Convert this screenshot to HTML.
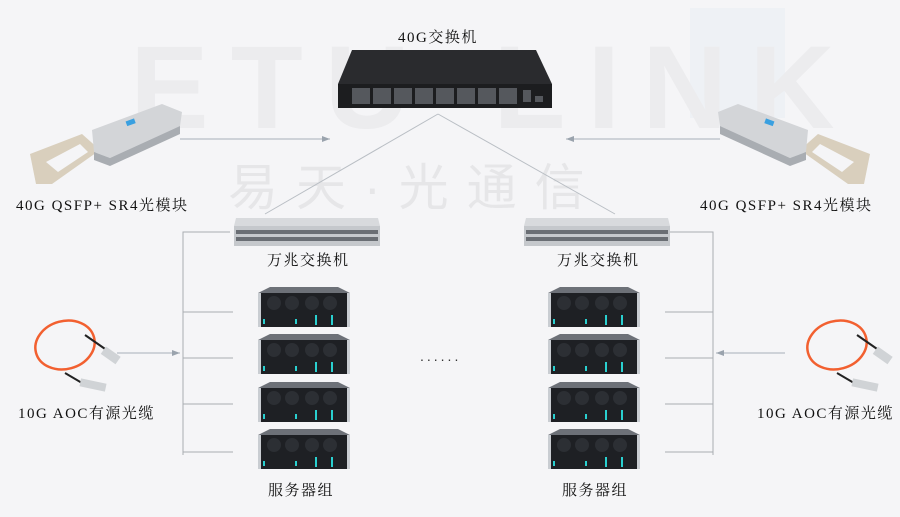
<!DOCTYPE html>
<html><head><meta charset="utf-8"><style>
html,body{margin:0;padding:0;background:#f5f5f7;}
svg{display:block}
.t{font-family:"Liberation Serif","Noto Serif CJK SC",serif;font-size:15px;fill:#111;letter-spacing:1.5px}
</style></head><body>
<svg width="900" height="517" viewBox="0 0 900 517" xmlns="http://www.w3.org/2000/svg">
<defs>
<g id="srv">
 <path d="M12 0 H80 L92 6 H0 Z" fill="#6d7178"/>
 <rect x="0" y="6" width="92" height="34" fill="#1e2024"/>
 <rect x="0" y="6" width="3" height="34" fill="#c9cdd2"/>
 <rect x="89" y="6" width="3" height="34" fill="#c9cdd2"/>
 <circle cx="16" cy="16" r="7" fill="#2c2f34"/><circle cx="34" cy="16" r="7" fill="#2c2f34"/>
 <circle cx="54" cy="16" r="7" fill="#2c2f34"/><circle cx="72" cy="16" r="7" fill="#2c2f34"/>
 <rect x="5" y="32" width="2" height="5" fill="#2ad0d0"/><rect x="37" y="32" width="2" height="5" fill="#2ad0d0"/>
 <rect x="57" y="28" width="2" height="10" fill="#2ad0d0"/><rect x="73" y="28" width="2" height="10" fill="#2ad0d0"/>
</g>
<g id="qsfp">
 <path d="M18 62 L70 42 L88 58 L40 92 L24 92 Z" fill="#d9cfbd"/>
 <path d="M34 70 L68 52 L76 60 L46 80 Z" fill="#f5f5f7"/>
 <path d="M80 38 L150 12 L170 20 L168 34 L98 66 L82 60 Z" fill="#d3d5d8"/>
 <path d="M82 60 L98 66 L168 34 L168 42 L98 74 L82 68 Z" fill="#a9adb2"/>
 <rect x="114" y="28" width="9" height="5" fill="#3aa0e0" transform="rotate(-20 118 30)"/>
</g>
<g id="aoc">
 <ellipse cx="45" cy="32" rx="30" ry="24" fill="none" stroke="#f26030" stroke-width="2.5" transform="rotate(-15 45 32)"/>
 <path d="M65 22 L88 38" stroke="#222" stroke-width="2"/>
 <path d="M45 60 L62 70" stroke="#222" stroke-width="2"/>
 <rect x="82" y="38" width="18" height="9" fill="#d0d3d6" transform="rotate(35 91 42)"/>
 <rect x="60" y="68" width="26" height="8" fill="#d0d3d6" transform="rotate(12 73 72)"/>
</g>
<marker id="ah" markerWidth="8" markerHeight="6" refX="8" refY="3" orient="auto"><path d="M0 0 L8 3 L0 6 Z" fill="#9aa3ad"/></marker>
</defs>

<!-- watermark -->
<rect x="690" y="8" width="95" height="110" fill="#eef1f5"/>
<text x="130" y="128" font-family="Liberation Sans,sans-serif" font-size="118" font-weight="bold" fill="#ececee" letter-spacing="22">ETU-LINK</text>
<text x="228" y="205" font-family="Liberation Sans,'Noto Sans CJK SC',sans-serif" font-size="50" fill="#e6e6e8" letter-spacing="18">易天·光通信</text>

<text class="t" x="398" y="42">40G交换机</text>
<!-- core switch -->
<path d="M352 50 H536 L552 84 H338 Z" fill="#2a2b2e"/>
<rect x="338" y="84" width="214" height="24" fill="#1c1d1f"/>
<g fill="#55585d">
<rect x="352" y="88" width="18" height="16"/><rect x="373" y="88" width="18" height="16"/><rect x="394" y="88" width="18" height="16"/><rect x="415" y="88" width="18" height="16"/><rect x="436" y="88" width="18" height="16"/><rect x="457" y="88" width="18" height="16"/><rect x="478" y="88" width="18" height="16"/><rect x="499" y="88" width="18" height="16"/><rect x="523" y="90" width="8" height="12"/><rect x="535" y="96" width="8" height="6"/>
</g>

<!-- uplinks -->
<path d="M438 114 L265 214 M438 114 L615 214" stroke="#b9bec4" stroke-width="1" fill="none"/>
<line x1="180" y1="139" x2="330" y2="139" stroke="#a8b0b8" marker-end="url(#ah)"/>
<line x1="720" y1="139" x2="566" y2="139" stroke="#a8b0b8" marker-end="url(#ah)"/>

<use href="#qsfp" x="12" y="92"/>
<use href="#qsfp" transform="translate(888 92) scale(-1 1)"/>
<text class="t" x="16" y="210">40G QSFP+ SR4光模块</text>
<text class="t" x="700" y="210">40G QSFP+ SR4光模块</text>

<!-- leaf switches -->
<g>
<path d="M236 218 H378 L380 226 H234 Z" fill="#d8dadd"/>
<rect x="234" y="226" width="146" height="20" fill="#c5c8cc"/>
<rect x="236" y="230" width="142" height="4" fill="#6a6e74"/><rect x="236" y="237" width="142" height="4" fill="#6a6e74"/>
<path d="M526 218 H668 L670 226 H524 Z" fill="#d8dadd"/>
<rect x="524" y="226" width="146" height="20" fill="#c5c8cc"/>
<rect x="526" y="230" width="142" height="4" fill="#6a6e74"/><rect x="526" y="237" width="142" height="4" fill="#6a6e74"/>
</g>
<text class="t" x="267" y="265">万兆交换机</text>
<text class="t" x="557" y="265">万兆交换机</text>

<!-- brackets -->
<g stroke="#a9adb2" fill="none" stroke-width="1">
<path d="M230 232 H183 V455 M183 312 H233 M183 358 H233 M183 404 H233 M183 452 H233"/>
<path d="M670 232 H713 V455 M713 312 H665 M713 358 H665 M713 404 H665 M713 452 H665"/>
</g>
<line x1="117" y1="353" x2="180" y2="353" stroke="#a8b0b8" marker-end="url(#ah)"/>
<line x1="785" y1="353" x2="716" y2="353" stroke="#a8b0b8" marker-end="url(#ah)"/>

<use href="#srv" x="258" y="287"/><use href="#srv" x="258" y="334"/><use href="#srv" x="258" y="382"/><use href="#srv" x="258" y="429"/>
<use href="#srv" x="548" y="287"/><use href="#srv" x="548" y="334"/><use href="#srv" x="548" y="382"/><use href="#srv" x="548" y="429"/>

<text x="420" y="361" font-family="Liberation Sans,sans-serif" font-size="14" fill="#333" letter-spacing="3">......</text>

<use href="#aoc" x="20" y="313"/>
<use href="#aoc" x="792" y="313"/>
<text class="t" x="18" y="418">10G AOC有源光缆</text>
<text class="t" x="757" y="418">10G AOC有源光缆</text>

<text class="t" x="268" y="495">服务器组</text>
<text class="t" x="562" y="495">服务器组</text>
</svg>
</body></html>
